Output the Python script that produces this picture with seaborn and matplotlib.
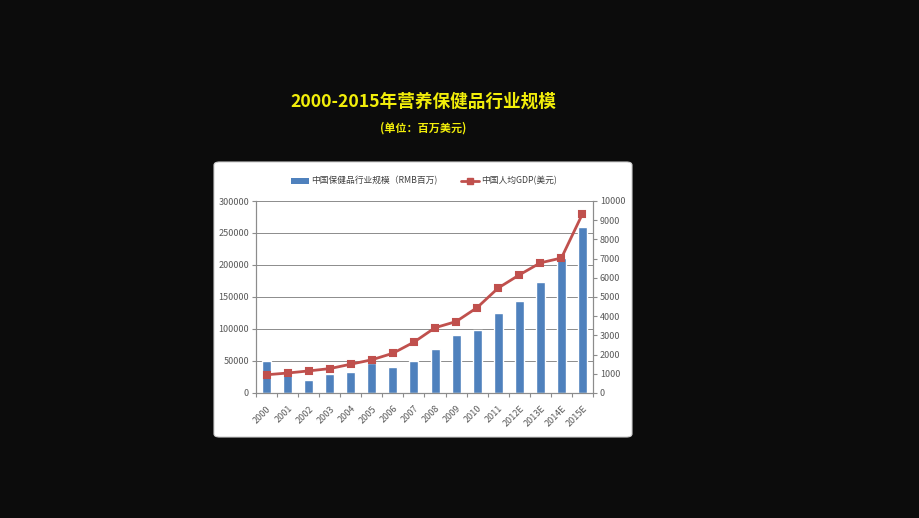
import matplotlib
matplotlib.use("Agg")
import matplotlib.pyplot as plt
from matplotlib.patches import FancyBboxPatch
from matplotlib.lines import Line2D
from matplotlib.patches import Patch
from matplotlib.ticker import FixedLocator
import seaborn as sns
import pandas as pd

years = ["2000", "2001", "2002", "2003", "2004", "2005", "2006", "2007",
         "2008", "2009", "2010", "2011", "2012E", "2013E", "2014E", "2015E"]
market_size = [50000, 33000, 20000, 30000, 33000, 47000, 40000, 50000,
               69000, 91000, 99000, 125000, 144000, 173000, 211000, 259000]
gdp_per_capita = [950, 1040, 1150, 1270, 1500, 1730, 2070, 2650,
                  3400, 3720, 4450, 5470, 6150, 6780, 7030, 9330]
left_ticks = [0, 50000, 100000, 150000, 200000, 250000, 300000]
right_ticks = [0, 1000, 2000, 3000, 4000, 5000, 6000, 7000, 8000, 9000, 10000]

title_text = "2000-2015年营养保健品行业规模"
subtitle_text = "(单位：百万美元)"
bar_label = "中国保健品行业规模（RMB百万)"
line_label = "中国人均GDP(美元)"

sns.set_theme(style="white")
plt.rcParams['font.family'] = ['Noto Sans CJK SC', 'DejaVu Sans']

BAR_C = "#4F81BD"
LINE_C = "#C0504D"
TICK_C = "#595959"

df = pd.DataFrame({"year": years, "size": market_size, "gdp": gdp_per_capita})

fig = plt.figure(figsize=(9.2, 5.18), dpi=100)
fig.patch.set_facecolor("#0c0c0c")

# white chart panel
panel = FancyBboxPatch((214/920, 1-437/518), (632-214)/920, (437-162)/518,
                       boxstyle="round,pad=0,rounding_size=0.006",
                       transform=fig.transFigure, facecolor="white",
                       edgecolor="#d0d0d0", linewidth=0.8, zorder=-5)
fig.patches.append(panel)

ax = fig.add_axes([256/920, 1-393/518, (593-256)/920, (393-201)/518])
ax.set_facecolor("white")
sns.barplot(data=df, x="year", y="size", color=BAR_C, width=0.43,
            saturation=1, ax=ax, zorder=2)
ax.set_ylim(0, 300000)
ax.set_xlim(-0.5, len(years)-0.5)
ax.set_yticks(left_ticks)
ax.set_yticklabels([str(t) for t in left_ticks])
ax.yaxis.grid(True, color="#8c8c8c", linewidth=0.7)
ax.set_axisbelow(True)
ax.set_xlabel("")
ax.set_ylabel("")
ax.xaxis.set_minor_locator(FixedLocator([i - 0.5 for i in range(len(years) + 1)]))

ax2 = ax.twinx()
sns.pointplot(data=df, x="year", y="gdp", color=LINE_C, markers="s",
              markersize=5, linewidth=2, ax=ax2)
ax2.set_ylim(0, 10000)
ax2.set_xlim(-0.5, len(years)-0.5)
ax2.set_yticks(right_ticks)
ax2.set_yticklabels([str(t) for t in right_ticks])
ax2.set_ylabel("")
ax2.set_xlabel("")

for a in (ax, ax2):
    a.spines["top"].set_visible(False)
    for s in ("left", "right", "bottom"):
        a.spines[s].set_color("#8c8c8c")
        a.spines[s].set_linewidth(0.8)
    a.tick_params(axis="y", labelsize=6.5, labelcolor=TICK_C, color="#8c8c8c",
                  length=3, width=0.8, pad=2)
ax.tick_params(axis="y", left=True, right=False)
ax2.tick_params(axis="y", right=True, left=False)
ax.tick_params(axis="x", which="major", labelsize=6.5, labelcolor=TICK_C,
               bottom=False, pad=2)
ax.tick_params(axis="x", which="minor", bottom=True, length=3, width=0.8,
               color="#8c8c8c")
for lab in ax.get_xticklabels():
    lab.set_rotation(45)
    lab.set_ha("right")
    lab.set_rotation_mode("anchor")
ax2.tick_params(axis="x", bottom=False, labelbottom=False)

handles = [Patch(facecolor=BAR_C, edgecolor="none"),
           Line2D([0], [0], color=LINE_C, linewidth=2, marker="s", markersize=5)]
fig.legend(handles, [bar_label, line_label], loc="center",
           bbox_to_anchor=(424/920, 1-181/518), ncol=2, frameon=False,
           fontsize=6.3, handlelength=2.1, columnspacing=2.6, handletextpad=0.3,
           labelcolor="#404040")

fig.text(423/920, 1-102/518, title_text, ha="center", va="center",
         color="#F2EE0A", fontsize=12.7, fontweight="bold")
fig.text(423/920, 1-128/518, subtitle_text, ha="center", va="center",
         color="#F2EE0A", fontsize=8, fontweight="bold")

fig.savefig("out.png", dpi=100, facecolor=fig.get_facecolor())
